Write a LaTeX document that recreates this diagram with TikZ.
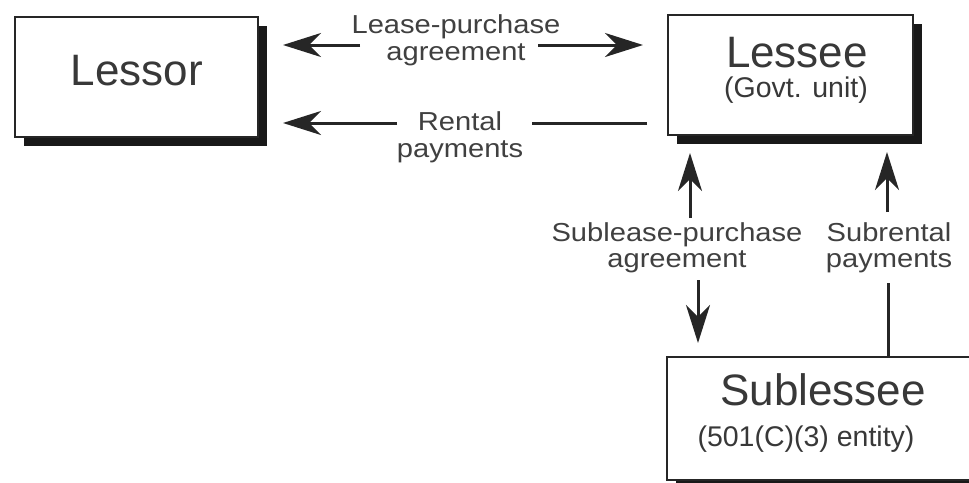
\documentclass[tikz,border=0pt]{standalone}
\usepackage{fontspec}
\setmainfont{Liberation Sans}
\newfontfamily\labfont[FakeStretch=1.12]{Liberation Sans}
\usetikzlibrary{arrows.meta,shadows}
\begin{document}
\begin{tikzpicture}[x=1pt,y=-1pt,
  box/.style={draw=black!85, line width=2.4pt, fill=white, inner sep=0pt,
    drop shadow={shadow xshift=9pt, shadow yshift=-9pt, fill=black!90, opacity=1}},
  title/.style={font=\fontsize{44}{44}\selectfont, text=black!78, anchor=base, inner sep=0pt},
  subt/.style={font=\fontsize{28.5}{28.5}\selectfont, text=black!78, anchor=base, inner sep=0pt},
  lab/.style={font=\labfont\fontsize{26}{27}\selectfont, text=black!75, align=center, anchor=center, inner sep=0pt},
  labv/.style={lab, font=\labfont\fontsize{26}{25.5}\selectfont},
  arr/.style={line width=3pt, draw=black!85, -{Stealth[length=38pt,width=24pt,inset=12pt]}},
  ln/.style={line width=3pt, draw=black!85}]
\useasboundingbox (0,0) rectangle (969,482);
\clip (0,0) rectangle (969,482);
\fill[white] (0,0) rectangle (969,482);
% boxes
\node[box, minimum width=243pt, minimum height=120pt] (lessor) at (136.5,77) {};
\node[box, minimum width=245pt, minimum height=120pt] (lessee) at (790.5,75) {};
\node[box, minimum width=333pt, minimum height=123pt] (subl) at (833.5,418.5) {};
% box texts
\node[title] (tLessor) at (137,85) {Lessor};
\node[title] (tLessee) at (797,67) {Lessee};
\node[subt] (tGovt) at (796,97) {(Govt. unit)};
\node[title] (tSubl) at (823,405) {Sublessee};
\node[subt] (tEnt) at (806,446) {(501(C)(3) entity)};
% labels
\node[lab] (l1) at (456,40) {Lease-purchase\\agreement};
\node[lab] (l2) at (460,137) {Rental\\payments};
\node[labv] (l3) at (677,248) {Sublease-purchase\\agreement};
\node[labv] (l4) at (889,248) {Subrental\\payments};
% connector end points
\coordinate (a1s) at (360,45);  \coordinate (a1t) at (283,45);
\coordinate (a2s) at (538,45);  \coordinate (a2t) at (643,45);
\coordinate (a3s) at (397,123); \coordinate (a3t) at (283,123);
\coordinate (a4s) at (647,123); \coordinate (a4t) at (532,123);
\coordinate (a5s) at (690,218); \coordinate (a5t) at (690,153);
\coordinate (a6s) at (698,280); \coordinate (a6t) at (698,343);
\coordinate (a7s) at (887,212); \coordinate (a7t) at (887,152);
\coordinate (a8s) at (888,357); \coordinate (a8t) at (888,283);
% connectors
\draw[arr] (a1s) -- (a1t);
\draw[arr] (a2s) -- (a2t);
\draw[arr] (a3s) -- (a3t);
\draw[ln]  (a4s) -- (a4t);
\draw[arr] (a5s) -- (a5t);
\draw[arr] (a6s) -- (a6t);
\draw[arr] (a7s) -- (a7t);
\draw[ln]  (a8s) -- (a8t);
\end{tikzpicture}
\end{document}
